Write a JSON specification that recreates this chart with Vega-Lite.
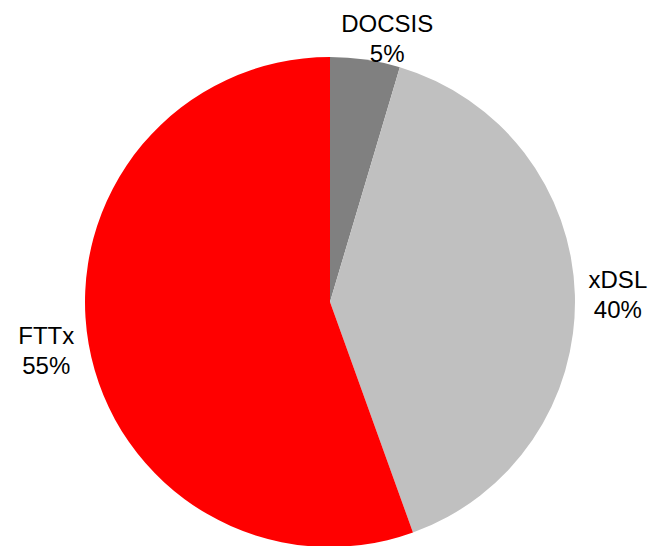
{
  "$schema": "https://vega.github.io/schema/vega-lite/v6.json",
  "autosize": {"type": "none"},
  "width": 660,
  "height": 604,
  "padding": 0,
  "background": "white",
  "view": {"stroke": null},
  "data": {"values": [
    {"tech": "DOCSIS", "share": 4.6, "pct": "5%", "order": 1},
    {"tech": "xDSL", "share": 39.9, "pct": "40%", "order": 2},
    {"tech": "FTTx", "share": 55.5, "pct": "55%", "order": 3}
  ]},
  "layer": [
    {
      "mark": {"type": "arc", "outerRadius": 245},
      "encoding": {
        "theta": {"field": "share", "type": "quantitative", "stack": true, "scale": {"domain": [0, 100]}},
        "order": {"field": "order", "type": "quantitative"},
        "color": {
          "field": "tech",
          "type": "nominal",
          "scale": {"domain": ["DOCSIS", "xDSL", "FTTx"], "range": ["#808080", "#C0C0C0", "#FF0000"]},
          "legend": null
        }
      }
    },
    {
      "transform": [
        {"stack": "share", "groupby": [], "sort": [{"field": "order"}], "as": ["s0", "s1"]},
        {"calculate": "(datum.s0 + datum.s1) / 2", "as": "mid"},
        {"calculate": "[datum.tech, datum.pct]", "as": "label"},
        {"filter": "datum.tech === 'DOCSIS'"}
      ],
      "mark": {"type": "text", "font": "Liberation Sans, Arial", "fontSize": 24, "lineHeight": 30, "baseline": "middle", "align": "center", "color": "black", "radius": 265, "dx": 19, "dy": -15},
      "encoding": {
        "theta": {"field": "mid", "type": "quantitative", "stack": null},
        "text": {"field": "label"}
      }
    },
    {
      "transform": [
        {"stack": "share", "groupby": [], "sort": [{"field": "order"}], "as": ["s0", "s1"]},
        {"calculate": "(datum.s0 + datum.s1) / 2", "as": "mid"},
        {"calculate": "[datum.tech, datum.pct]", "as": "label"},
        {"filter": "datum.tech === 'xDSL'"}
      ],
      "mark": {"type": "text", "font": "Liberation Sans, Arial", "fontSize": 24, "lineHeight": 30, "baseline": "middle", "align": "center", "color": "black", "radius": 288, "dx": 0, "dy": -13},
      "encoding": {
        "theta": {"field": "mid", "type": "quantitative", "stack": null},
        "text": {"field": "label"}
      }
    },
    {
      "transform": [
        {"stack": "share", "groupby": [], "sort": [{"field": "order"}], "as": ["s0", "s1"]},
        {"calculate": "(datum.s0 + datum.s1) / 2", "as": "mid"},
        {"calculate": "[datum.tech, datum.pct]", "as": "label"},
        {"filter": "datum.tech === 'FTTx'"}
      ],
      "mark": {"type": "text", "font": "Liberation Sans, Arial", "fontSize": 24, "lineHeight": 30, "baseline": "middle", "align": "center", "color": "black", "radius": 288, "dx": 0, "dy": -15},
      "encoding": {
        "theta": {"field": "mid", "type": "quantitative", "stack": null},
        "text": {"field": "label"}
      }
    }
  ]
}
